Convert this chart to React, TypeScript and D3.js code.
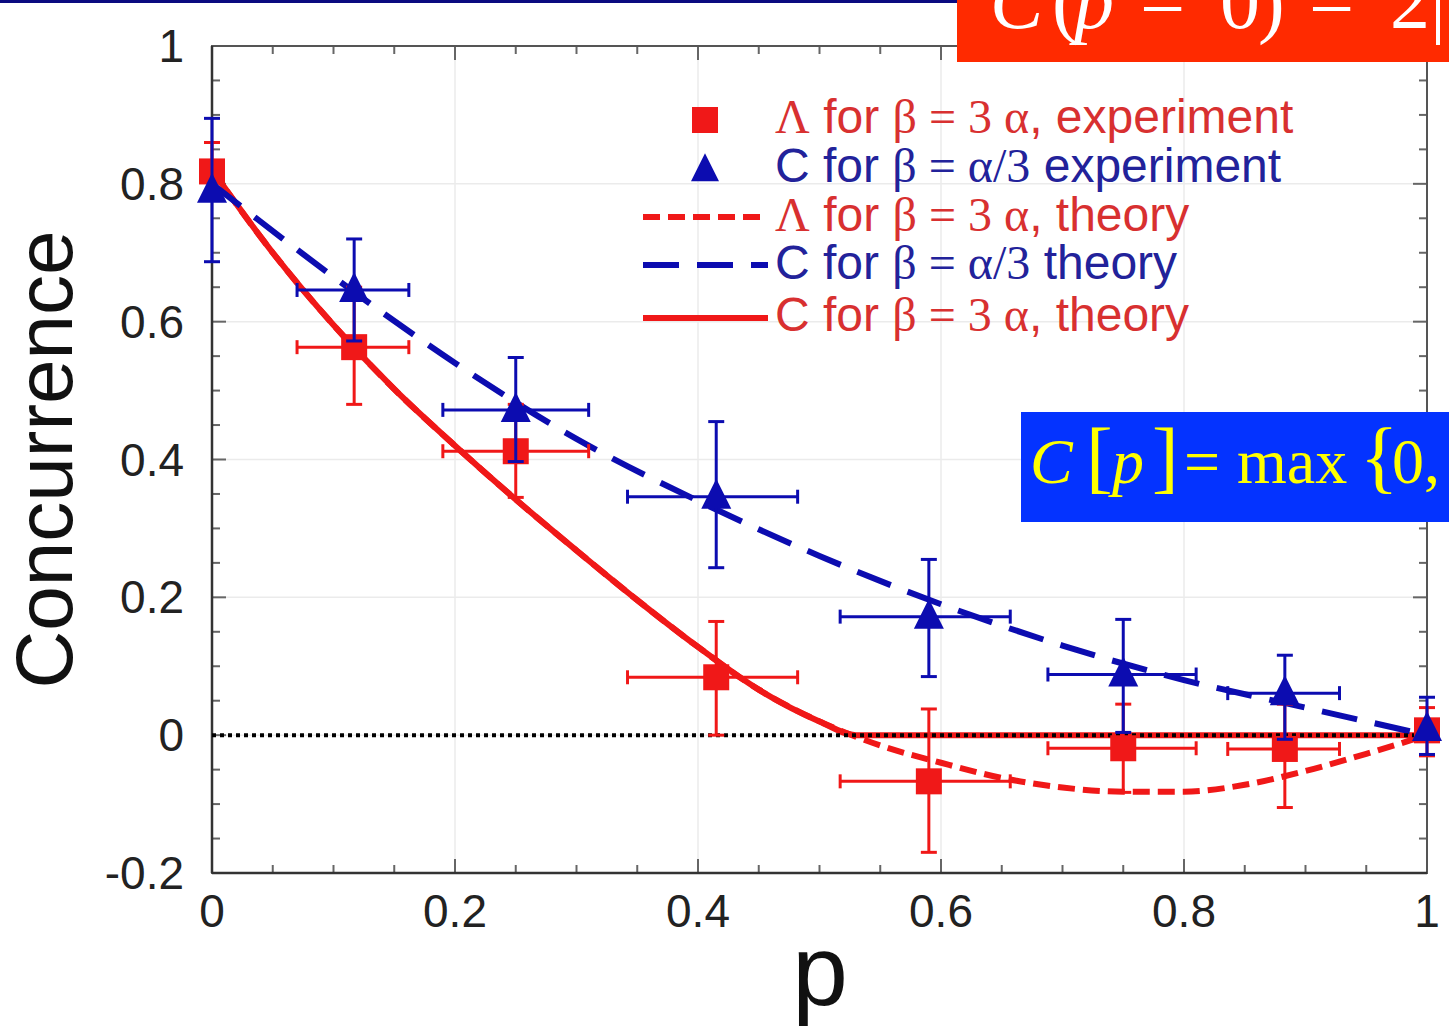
import * as d3 from "d3";

// experiment: p positions and horizontal error bounds (shared by both series)
const expP = [0, 0.117, 0.25, 0.415, 0.59, 0.75, 0.883, 1];
const expPLow = [0, 0.07, 0.19, 0.342, 0.517, 0.688, 0.836, 1];
const expPHigh = [0, 0.162, 0.31, 0.482, 0.657, 0.81, 0.928, 1];

// Λ for β = 3α, experiment (red squares)
const lamExp = [0.818, 0.563, 0.412, 0.084, -0.067, -0.019, -0.02, 0.007];
const lamLow = [0.78, 0.48, 0.345, 0.0, -0.17, -0.083, -0.105, -0.03];
const lamHigh = [0.86, 0.65, 0.48, 0.165, 0.038, 0.045, 0.045, 0.04];

// C for β = α/3, experiment (blue triangles)
const cExp = [0.79, 0.646, 0.472, 0.346, 0.172, 0.088, 0.061, 0.009];
const cLow = [0.687, 0.572, 0.397, 0.243, 0.085, 0.004, -0.006, -0.028];
const cHigh = [0.895, 0.72, 0.548, 0.455, 0.255, 0.168, 0.116, 0.055];

// theory curves
const lamThP = [0, 0.05, 0.1, 0.15, 0.2, 0.25, 0.3, 0.35, 0.4, 0.45, 0.5, 0.55, 0.6, 0.65, 0.7, 0.75, 0.8, 0.85, 0.9, 0.95, 1];
const lamTh = [0.82, 0.7, 0.595, 0.502, 0.42, 0.342, 0.268, 0.196, 0.128, 0.066, 0.02, -0.015, -0.04, -0.062, -0.076, -0.082, -0.082, -0.072, -0.052, -0.027, 0];
const cRedThP = [0, 0.05, 0.1, 0.15, 0.2, 0.25, 0.3, 0.35, 0.4, 0.45, 0.5, 0.53, 1];
const cRedTh = [0.82, 0.7, 0.595, 0.502, 0.42, 0.342, 0.268, 0.196, 0.128, 0.066, 0.02, 0, 0];
const cBlueThP = [0, 0.1, 0.2, 0.3, 0.4, 0.5, 0.6, 0.7, 0.8, 0.9, 1];
const cBlueTh = [0.8, 0.665, 0.54, 0.43, 0.34, 0.26, 0.19, 0.13, 0.08, 0.04, 0];

const xTicks = [0, 0.2, 0.4, 0.6, 0.8, 1];
const xTickLabels = ["0", "0.2", "0.4", "0.6", "0.8", "1"];
const yTicks = [-0.2, 0, 0.2, 0.4, 0.6, 0.8, 1];
const yTickLabels = ["-0.2", "0", "0.2", "0.4", "0.6", "0.8", "1"];

const RED = "#f01818";
const BLUE = "#0c0cb0";
const RED_TXT = "#d83030";
const BLUE_TXT = "#22229a";
const SANS = "Liberation Sans, Arial, sans-serif";
const SERIF = "Liberation Serif, Times New Roman, serif";

export default function App() {
  const W = 1449;
  const H = 1032;
  const x = d3.scaleLinear().domain([0, 1]).range([212, 1427]);
  const y = d3.scaleLinear().domain([-0.2, 1]).range([873, 46]);

  const minorX = d3.range(0, 21).map((i) => i * 0.05);
  const minorY = d3.range(-4, 21).map((i) => i * 0.05);

  const line = d3
    .line<[number, number]>()
    .x((d) => x(d[0]))
    .y((d) => y(d[1]))
    .curve(d3.curveMonotoneX);

  const lamPath = line(lamThP.map((p, i) => [p, lamTh[i]]));
  const cRedPath = line(cRedThP.map((p, i) => [p, cRedTh[i]]));
  const cBluePath = line(cBlueThP.map((p, i) => [p, cBlueTh[i]]));

  const [x0, x1] = x.range();
  const [y0, y1] = y.range();

  const errBars = (vals: number[], lo: number[], hi: number[], color: string) =>
    expP.map((p, i) => (
      <g key={i} stroke={color} strokeWidth={3}>
        <line x1={x(p)} x2={x(p)} y1={y(lo[i])} y2={y(hi[i])} />
        <line x1={x(p) - 8} x2={x(p) + 8} y1={y(lo[i])} y2={y(lo[i])} />
        <line x1={x(p) - 8} x2={x(p) + 8} y1={y(hi[i])} y2={y(hi[i])} />
        {expPHigh[i] > expPLow[i] && (
          <>
            <line x1={x(expPLow[i])} x2={x(expPHigh[i])} y1={y(vals[i])} y2={y(vals[i])} />
            <line x1={x(expPLow[i])} x2={x(expPLow[i])} y1={y(vals[i]) - 7} y2={y(vals[i]) + 7} />
            <line x1={x(expPHigh[i])} x2={x(expPHigh[i])} y1={y(vals[i]) - 7} y2={y(vals[i]) + 7} />
          </>
        )}
      </g>
    ));

  const tri = (cx: number, cy: number, s: number) =>
    `M${cx},${cy - s * 0.6} L${cx + s / 2},${cy + s * 0.4} L${cx - s / 2},${cy + s * 0.4} Z`;

  const legendRows = [
    { y: 120, kind: "square" },
    { y: 168, kind: "triangle" },
    { y: 217, kind: "reddash" },
    { y: 265, kind: "bluedash" },
    { y: 318, kind: "redsolid" },
  ];

  return (
    <div style={{ position: "fixed", left: 0, top: 0 }}>
      <svg width={W} height={H} style={{ display: "block", background: "white" }}>
        {/* faint grid */}
        <g stroke="#ebebeb" strokeWidth={1.5}>
          {xTicks.slice(1, -1).map((t) => (
            <line key={"gx" + t} x1={x(t)} x2={x(t)} y1={y1} y2={y0} />
          ))}
          {yTicks.slice(1, -1).map((t) => (
            <line key={"gy" + t} x1={x0} x2={x1} y1={y(t)} y2={y(t)} />
          ))}
        </g>

        {/* ticks, inward on all four sides */}
        <g stroke="#666" strokeWidth={2}>
          {minorX.map((t, i) => {
            const len = i % 4 === 0 ? 14 : 8;
            return (
              <g key={"tx" + i}>
                <line x1={x(t)} x2={x(t)} y1={y0} y2={y0 - len} />
                <line x1={x(t)} x2={x(t)} y1={y1} y2={y1 + len} />
              </g>
            );
          })}
          {minorY.map((t, i) => {
            const len = i % 4 === 0 ? 14 : 8;
            return (
              <g key={"ty" + i}>
                <line x1={x0} x2={x0 + len} y1={y(t)} y2={y(t)} />
                <line x1={x1} x2={x1 - len} y1={y(t)} y2={y(t)} />
              </g>
            );
          })}
        </g>
        <rect x={x0} y={y1} width={x1 - x0} height={y0 - y1} fill="none" stroke="#555" strokeWidth={2} />
        <line x1={x0} x2={x0} y1={y1} y2={y0} stroke="#333" strokeWidth={2.5} />
        <line x1={x0} x2={x1} y1={y0} y2={y0} stroke="#333" strokeWidth={2.5} />

        {/* tick labels */}
        <g fontFamily={SANS} fontSize={46} fill="#222">
          {xTicks.map((t, i) => (
            <text key={"lx" + i} x={x(t)} y={927} textAnchor="middle">
              {xTickLabels[i]}
            </text>
          ))}
          {yTicks.map((t, i) => (
            <text key={"ly" + i} x={184} y={y(t) + 16} textAnchor="end">
              {yTickLabels[i]}
            </text>
          ))}
        </g>

        {/* axis titles */}
        <text
          transform={`translate(72,${(y0 + y1) / 2}) rotate(-90)`}
          textAnchor="middle"
          fontFamily={SANS}
          fontSize={80}
          fill="#111"
        >
          Concurrence
        </text>
        <text x={820} y={1005} textAnchor="middle" fontFamily={SANS} fontSize={100} fill="#111">
          p
        </text>

        {/* theory curves */}
        <path d={lamPath ?? ""} fill="none" stroke={RED} strokeWidth={6} strokeDasharray="17 8" />
        <path d={cRedPath ?? ""} fill="none" stroke={RED} strokeWidth={6} />
        <path d={cBluePath ?? ""} fill="none" stroke={BLUE} strokeWidth={6} strokeDasharray="36 18" />
        <line x1={x0} x2={x1} y1={y(0)} y2={y(0)} stroke="#000" strokeWidth={4} strokeDasharray="4 4" />

        {/* experiments */}
        {errBars(lamExp, lamLow, lamHigh, RED)}
        {expP.map((p, i) => (
          <rect key={"sq" + i} x={x(p) - 13} y={y(lamExp[i]) - 13} width={26} height={26} fill={RED} />
        ))}
        {errBars(cExp, cLow, cHigh, BLUE)}
        {expP.map((p, i) => (
          <path key={"tr" + i} d={tri(x(p), y(cExp[i]), 30)} fill={BLUE} />
        ))}

        {/* legend */}
        {legendRows.map((r) => (
          <g key={r.kind}>
            {r.kind === "square" && <rect x={692} y={r.y - 13} width={26} height={26} fill={RED} />}
            {r.kind === "triangle" && <path d={tri(705, r.y + 2, 28)} fill={BLUE} />}
            {r.kind === "reddash" && (
              <line x1={643} x2={768} y1={r.y} y2={r.y} stroke={RED} strokeWidth={6} strokeDasharray="17 8" />
            )}
            {r.kind === "bluedash" && (
              <line x1={643} x2={768} y1={r.y} y2={r.y} stroke={BLUE} strokeWidth={6} strokeDasharray="36 18" />
            )}
            {r.kind === "redsolid" && <line x1={643} x2={768} y1={r.y} y2={r.y} stroke={RED} strokeWidth={6} />}
          </g>
        ))}
        <g fontSize={48}>
          <text x={775} y={133} fill={RED_TXT}>
            <tspan fontFamily={SERIF}>Λ</tspan>
            <tspan fontFamily={SANS}> for </tspan>
            <tspan fontFamily={SERIF}>β = 3 α</tspan>
            <tspan fontFamily={SANS}>, experiment</tspan>
          </text>
          <text x={775} y={182} fill={BLUE_TXT}>
            <tspan fontFamily={SANS}>C for </tspan>
            <tspan fontFamily={SERIF}>β = α/3</tspan>
            <tspan fontFamily={SANS}> experiment</tspan>
          </text>
          <text x={775} y={231} fill={RED_TXT}>
            <tspan fontFamily={SERIF}>Λ</tspan>
            <tspan fontFamily={SANS}> for </tspan>
            <tspan fontFamily={SERIF}>β = 3 α</tspan>
            <tspan fontFamily={SANS}>, theory</tspan>
          </text>
          <text x={775} y={279} fill={BLUE_TXT}>
            <tspan fontFamily={SANS}>C for </tspan>
            <tspan fontFamily={SERIF}>β = α/3</tspan>
            <tspan fontFamily={SANS}> theory</tspan>
          </text>
          <text x={775} y={331} fill={RED_TXT}>
            <tspan fontFamily={SANS}>C for </tspan>
            <tspan fontFamily={SERIF}>β = 3 α</tspan>
            <tspan fontFamily={SANS}>, theory</tspan>
          </text>
        </g>

        {/* slide overlays */}
        <rect x={0} y={0} width={957} height={3} fill="#0a0a80" />
        <rect x={957} y={0} width={492} height={62} fill="#ff2a00" />
        <text y={28} fontFamily={SERIF} fontSize={80} fill="white">
          <tspan x={990} fontStyle="italic">C</tspan>
          <tspan x={1052}>(</tspan>
          <tspan x={1074} fontStyle="italic">p</tspan>
          <tspan x={1140}>=</tspan>
          <tspan x={1220}>0</tspan>
          <tspan x={1258}>)</tspan>
          <tspan x={1309}>=</tspan>
          <tspan x={1390}>2</tspan>
          <tspan x={1430}>|</tspan>
        </text>
        <rect x={1021} y={412} width={428} height={110} fill="#0433ff" />
        <text y={483} fontFamily={SERIF} fontSize={64} fill="#ffff00">
          <tspan x={1030} fontStyle="italic">C</tspan>
          <tspan x={1086} fontSize={80}>[</tspan>
          <tspan x={1112} fontStyle="italic">p</tspan>
          <tspan x={1152} fontSize={80}>]</tspan>
          <tspan x={1184}>=</tspan>
          <tspan x={1237}>max</tspan>
          <tspan x={1360} fontSize={80}>{"{"}</tspan>
          <tspan x={1392}>0,</tspan>
        </text>
      </svg>
    </div>
  );
}
